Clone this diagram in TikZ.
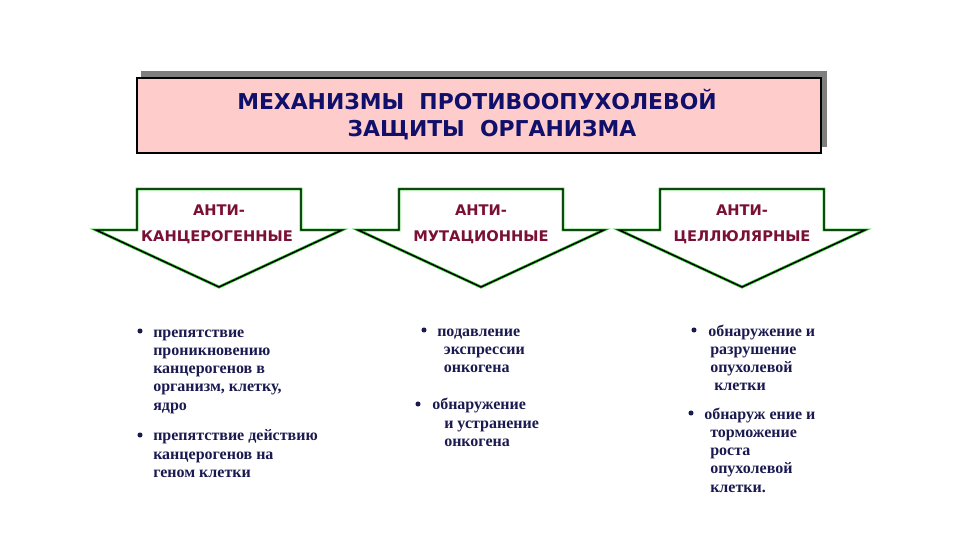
\documentclass[tikz,border=0pt]{standalone}
\usepackage{fontspec}
\setmainfont{Liberation Serif}
\newfontfamily\hdfont{DejaVu Sans}
\definecolor{navyT}{HTML}{10106A}
\definecolor{maroonT}{HTML}{7A1035}
\definecolor{bodyT}{HTML}{1A1A50}
\definecolor{pinkF}{HTML}{FFCCCC}
\definecolor{shadowG}{HTML}{7F7F7F}
\definecolor{greenE}{HTML}{33CC33}
\begin{document}
\begin{tikzpicture}[x=0.75pt,y=-0.75pt,
  hdtext/.style={font=\hdfont\bfseries\fontsize{16.4pt}{20pt}\selectfont, text=navyT, inner sep=0pt, anchor=base},
  arrtext/.style={font=\hdfont\bfseries\fontsize{11pt}{13pt}\selectfont, text=maroonT, inner sep=0pt, anchor=base},
  arrowshape/.style={draw=greenE, double=black, double distance=1.1pt, line width=0.55pt, line join=miter, fill=white},
  item/.style={font=\bfseries\fontsize{12pt}{13.6pt}\selectfont, text=bodyT, inner sep=0pt, anchor=north west, align=left},
  dot/.style={circle, fill=bodyT, inner sep=0pt, minimum size=3.8pt}]
\useasboundingbox (0,0) rectangle (960,540);
% header
\fill[shadowG] (141,71) rectangle (827,147);
\node[draw=black, line width=1.5pt, fill=pinkF, minimum width=684*0.75pt, minimum height=75*0.75pt, anchor=north west, inner sep=0pt] (hdr) at (136,77) {};
\node[hdtext] (hdr1) at (477,109) {МЕХАНИЗМЫ\ \ ПРОТИВООПУХОЛЕВОЙ};
\node[hdtext] (hdr2) at (492,136) {ЗАЩИТЫ\ \ ОРГАНИЗМА};
% arrows
\foreach \c/\n in {219/a, 481/b, 742/c}{
  \draw[arrowshape] (\c-82,189) -- (\c+82,189) -- (\c+82,230) -- (\c+123,230)
     -- (\c,287) -- (\c-123,230) -- (\c-82,230) -- cycle;
}
\node[arrtext] (a1) at (219,215) {АНТИ-};
\node[arrtext] (a2) at (217,241) {КАНЦЕРОГЕННЫЕ};
\node[arrtext] (b1) at (481,215) {АНТИ-};
\node[arrtext] (b2) at (481,241) {МУТАЦИОННЫЕ};
\node[arrtext] (c1) at (742,215) {АНТИ-};
\node[arrtext] (c2) at (742,241) {ЦЕЛЛЮЛЯРНЫЕ};
% column 1
\node[dot] (d11) at (140,331) {};
\node[item] (t11) at (153,324.5) {\strut препятствие\\проникновению\\канцерогенов в\\организм, клетку,\\ядро};
\node[dot] (d12) at (140,435) {};
\node[item] (t12) at (153,428) {\strut препятствие действию\\канцерогенов на\\геном клетки};
% column 2
\node[dot] (d21) at (424,330) {};
\node[item] (t21) at (437,323.5) {\strut подавление\\\hspace*{5pt}экспрессии\\\hspace*{5pt}онкогена};
\node[dot] (d22) at (418,404) {};
\node[item] (t22) at (432,397) {\strut обнаружение\\\hspace*{9pt}и устранение\\\hspace*{9pt}онкогена};
% column 3
\node[dot] (d31) at (694,330) {};
\node[item] (t31) at (708,323.5) {\strut обнаружение и\\\hspace*{1.5pt}разрушение\\\hspace*{1.5pt}опухолевой\\\hspace*{4.5pt}клетки};
\node[dot] (d32) at (691,413) {};
\node[item] (t32) at (704,406.5) {\strut обнаруж ение и\\\hspace*{4.5pt}торможение\\\hspace*{4.5pt}роста\\\hspace*{4.5pt}опухолевой\\\hspace*{4.5pt}клетки.};
\end{tikzpicture}
\end{document}
